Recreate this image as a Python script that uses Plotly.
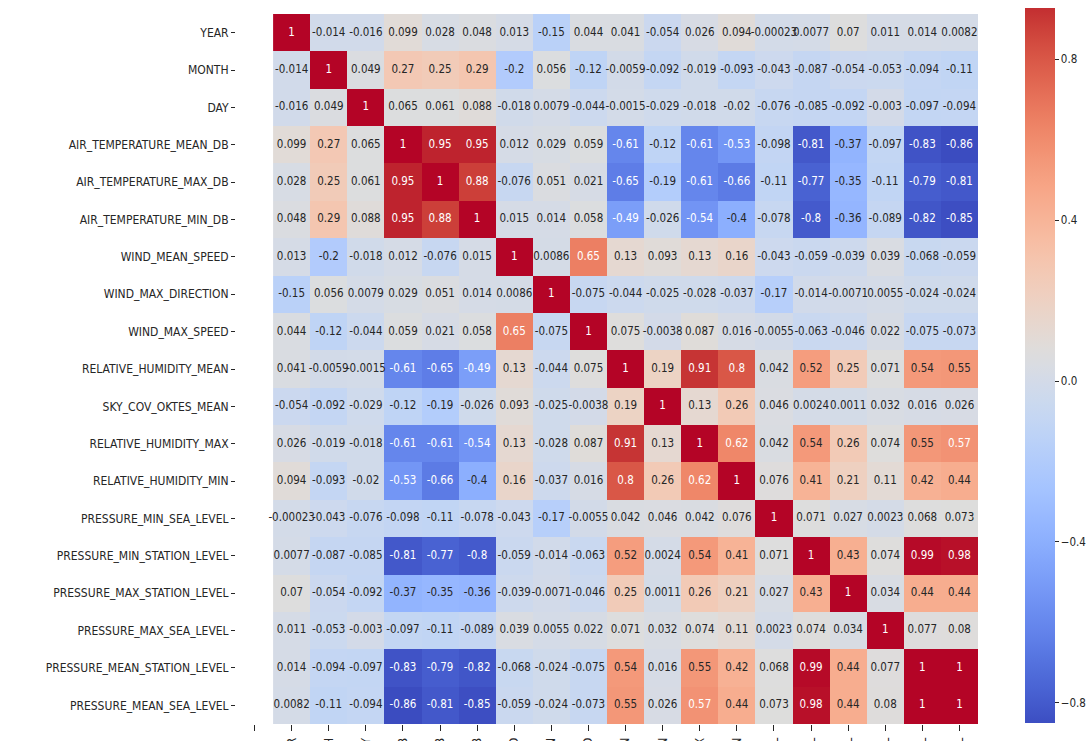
import numpy as np
import plotly.graph_objects as go

# Variables of the daily weather dataset (row/column order of the matrix)
variables = [
    "YEAR", "MONTH", "DAY",
    "AIR_TEMPERATURE_MEAN_DB", "AIR_TEMPERATURE_MAX_DB", "AIR_TEMPERATURE_MIN_DB",
    "WIND_MEAN_SPEED", "WIND_MAX_DIRECTION", "WIND_MAX_SPEED",
    "RELATIVE_HUMIDITY_MEAN", "SKY_COV_OKTES_MEAN", "RELATIVE_HUMIDITY_MAX",
    "RELATIVE_HUMIDITY_MIN", "PRESSURE_MIN_SEA_LEVEL", "PRESSURE_MIN_STATION_LEVEL",
    "PRESSURE_MAX_STATION_LEVEL", "PRESSURE_MAX_SEA_LEVEL",
    "PRESSURE_MEAN_STATION_LEVEL", "PRESSURE_MEAN_SEA_LEVEL",
]

# Pearson correlations, one list per row
corr_year = [1, -0.014, -0.016, 0.099, 0.028, 0.048, 0.013, -0.15, 0.044, 0.041, -0.054, 0.026, 0.094, -0.00023, 0.0077, 0.07, 0.011, 0.014, 0.0082]
corr_month = [-0.014, 1, 0.049, 0.27, 0.25, 0.29, -0.2, 0.056, -0.12, -0.0059, -0.092, -0.019, -0.093, -0.043, -0.087, -0.054, -0.053, -0.094, -0.11]
corr_day = [-0.016, 0.049, 1, 0.065, 0.061, 0.088, -0.018, 0.0079, -0.044, -0.0015, -0.029, -0.018, -0.02, -0.076, -0.085, -0.092, -0.003, -0.097, -0.094]
corr_air_mean = [0.099, 0.27, 0.065, 1, 0.95, 0.95, 0.012, 0.029, 0.059, -0.61, -0.12, -0.61, -0.53, -0.098, -0.81, -0.37, -0.097, -0.83, -0.86]
corr_air_max = [0.028, 0.25, 0.061, 0.95, 1, 0.88, -0.076, 0.051, 0.021, -0.65, -0.19, -0.61, -0.66, -0.11, -0.77, -0.35, -0.11, -0.79, -0.81]
corr_air_min = [0.048, 0.29, 0.088, 0.95, 0.88, 1, 0.015, 0.014, 0.058, -0.49, -0.026, -0.54, -0.4, -0.078, -0.8, -0.36, -0.089, -0.82, -0.85]
corr_wind_mean = [0.013, -0.2, -0.018, 0.012, -0.076, 0.015, 1, 0.0086, 0.65, 0.13, 0.093, 0.13, 0.16, -0.043, -0.059, -0.039, 0.039, -0.068, -0.059]
corr_wind_dir = [-0.15, 0.056, 0.0079, 0.029, 0.051, 0.014, 0.0086, 1, -0.075, -0.044, -0.025, -0.028, -0.037, -0.17, -0.014, -0.0071, 0.0055, -0.024, -0.024]
corr_wind_max = [0.044, -0.12, -0.044, 0.059, 0.021, 0.058, 0.65, -0.075, 1, 0.075, -0.0038, 0.087, 0.016, -0.0055, -0.063, -0.046, 0.022, -0.075, -0.073]
corr_rh_mean = [0.041, -0.0059, -0.0015, -0.61, -0.65, -0.49, 0.13, -0.044, 0.075, 1, 0.19, 0.91, 0.8, 0.042, 0.52, 0.25, 0.071, 0.54, 0.55]
corr_sky = [-0.054, -0.092, -0.029, -0.12, -0.19, -0.026, 0.093, -0.025, -0.0038, 0.19, 1, 0.13, 0.26, 0.046, 0.0024, 0.0011, 0.032, 0.016, 0.026]
corr_rh_max = [0.026, -0.019, -0.018, -0.61, -0.61, -0.54, 0.13, -0.028, 0.087, 0.91, 0.13, 1, 0.62, 0.042, 0.54, 0.26, 0.074, 0.55, 0.57]
corr_rh_min = [0.094, -0.093, -0.02, -0.53, -0.66, -0.4, 0.16, -0.037, 0.016, 0.8, 0.26, 0.62, 1, 0.076, 0.41, 0.21, 0.11, 0.42, 0.44]
corr_p_min_sea = [-0.00023, -0.043, -0.076, -0.098, -0.11, -0.078, -0.043, -0.17, -0.0055, 0.042, 0.046, 0.042, 0.076, 1, 0.071, 0.027, 0.0023, 0.068, 0.073]
corr_p_min_stn = [0.0077, -0.087, -0.085, -0.81, -0.77, -0.8, -0.059, -0.014, -0.063, 0.52, 0.0024, 0.54, 0.41, 0.071, 1, 0.43, 0.074, 0.99, 0.98]
corr_p_max_stn = [0.07, -0.054, -0.092, -0.37, -0.35, -0.36, -0.039, -0.0071, -0.046, 0.25, 0.0011, 0.26, 0.21, 0.027, 0.43, 1, 0.034, 0.44, 0.44]
corr_p_max_sea = [0.011, -0.053, -0.003, -0.097, -0.11, -0.089, 0.039, 0.0055, 0.022, 0.071, 0.032, 0.074, 0.11, 0.0023, 0.074, 0.034, 1, 0.077, 0.08]
corr_p_mean_stn = [0.014, -0.094, -0.097, -0.83, -0.79, -0.82, -0.068, -0.024, -0.075, 0.54, 0.016, 0.55, 0.42, 0.068, 0.99, 0.44, 0.077, 1, 1]
corr_p_mean_sea = [0.0082, -0.11, -0.094, -0.86, -0.81, -0.85, -0.059, -0.024, -0.073, 0.55, 0.026, 0.57, 0.44, 0.073, 0.98, 0.44, 0.08, 1, 1]

corr = np.array([
    corr_year, corr_month, corr_day, corr_air_mean, corr_air_max, corr_air_min,
    corr_wind_mean, corr_wind_dir, corr_wind_max, corr_rh_mean, corr_sky,
    corr_rh_max, corr_rh_min, corr_p_min_sea, corr_p_min_stn, corr_p_max_stn,
    corr_p_max_sea, corr_p_mean_stn, corr_p_mean_sea,
], dtype=float)

colorbar_ticks = [-0.8, -0.4, 0.0, 0.4, 0.8]

# matplotlib "coolwarm" control points
COOLWARM = [
    (59, 76, 192), (68, 90, 204), (77, 104, 215), (87, 117, 225), (98, 130, 234),
    (108, 142, 241), (119, 154, 247), (130, 165, 251), (141, 176, 254), (152, 185, 255),
    (163, 194, 255), (174, 201, 253), (184, 208, 249), (194, 213, 244), (204, 217, 238),
    (213, 219, 230), (221, 221, 221), (229, 216, 209), (236, 211, 197), (241, 204, 185),
    (245, 196, 173), (247, 187, 160), (247, 177, 148), (247, 166, 135), (244, 154, 123),
    (241, 141, 111), (236, 127, 99), (229, 112, 88), (222, 96, 77), (213, 80, 66),
    (203, 62, 56), (192, 40, 47), (180, 4, 38),
]
cw_pos = np.linspace(0, 1, len(COOLWARM))
cw_rgb = np.array(COOLWARM, dtype=float)


def coolwarm(t):
    t = float(np.clip(t, 0, 1))
    return tuple(np.interp(t, cw_pos, cw_rgb[:, k]) for k in range(3))


def rgb_str(c):
    return "rgb(%d,%d,%d)" % tuple(int(round(v)) for v in c)


full_scale = [[float(p), rgb_str(c)] for p, c in zip(cw_pos, COOLWARM)]

vmin, vmax = float(corr.min()), float(corr.max())

# Colour bar shows the portion of the map between these bounds
cb_lo, cb_hi = -0.851, 0.927
cb_vals = np.linspace(cb_lo, cb_hi, 41)
bar_scale = [[float(i / (len(cb_vals) - 1)), rgb_str(coolwarm((v - vmin) / (vmax - vmin)))]
             for i, v in enumerate(cb_vals)]


def luminance(c):
    rgb = np.array(c) / 255.0
    lin = np.where(rgb <= 0.03928, rgb / 12.92, ((rgb + 0.055) / 1.055) ** 2.4)
    return float(lin.dot([0.2126, 0.7152, 0.0722]))


n = len(variables)
dark_x, dark_y, dark_t = [], [], []
light_x, light_y, light_t = [], [], []
for i in range(n):
    for j in range(n):
        v = corr[i, j]
        label = format(v, ".2g")
        col = coolwarm((v - vmin) / (vmax - vmin))
        if luminance(col) > 0.408:
            dark_x.append(j); dark_y.append(i); dark_t.append(label)
        else:
            light_x.append(j); light_y.append(i); light_t.append(label)

FONT = "DejaVu Sans Condensed, Liberation Sans Narrow, DejaVu Sans, sans-serif"
INK = "#262626"

fig = go.Figure()
fig.add_trace(go.Heatmap(
    z=corr, x=list(range(n)), y=list(range(n)),
    coloraxis="coloraxis", hoverinfo="skip", xgap=0, ygap=0,
))
fig.add_trace(go.Scatter(
    x=dark_x, y=dark_y, text=dark_t, mode="text",
    textfont=dict(family=FONT, size=11.5, color=INK),
    hoverinfo="skip", showlegend=False,
))
fig.add_trace(go.Scatter(
    x=light_x, y=light_y, text=light_t, mode="text",
    textfont=dict(family=FONT, size=11.5, color="white"),
    hoverinfo="skip", showlegend=False,
))
# invisible carrier for the colour bar
fig.add_trace(go.Scatter(
    x=[0, 0], y=[0, 0], mode="markers",
    marker=dict(color=[cb_lo, cb_hi], coloraxis="coloraxis2", opacity=0, size=1),
    hoverinfo="skip", showlegend=False,
))

W, H = 1089, 741
x_left, x_right = 236, 978
y_top, y_bottom = 14, 724

fig.update_layout(
    width=W, height=H,
    margin=dict(l=0, r=0, t=0, b=0),
    paper_bgcolor="white", plot_bgcolor="white",
    font=dict(family=FONT, size=11.5, color=INK),
    coloraxis=dict(colorscale=full_scale, cmin=vmin, cmax=vmax, showscale=False),
    coloraxis2=dict(
        colorscale=bar_scale, cmin=cb_lo, cmax=cb_hi, showscale=True,
        colorbar=dict(
            x=1025 / W, xanchor="left", xpad=0, ypad=0,
            y=1 - 8.3 / H, yanchor="top", len=(723.3 - 8.3) / H, lenmode="fraction",
            thickness=30, outlinewidth=0,
            tickvals=colorbar_ticks, tickformat=".1f",
            ticks="outside", ticklen=4, tickcolor=INK, tickwidth=1,
            tickfont=dict(family=FONT, size=11.5, color=INK),
        ),
    ),
    xaxis=dict(
        domain=[x_left / W, x_right / W], range=[-1.5, n - 0.5],
        tickvals=list(range(-1, n)), ticktext=[""] + variables,
        tickangle=-90, ticks="outside", ticklen=6, tickcolor=INK, tickwidth=1,
        ticklabelstandoff=2,
        showgrid=False, zeroline=False, showline=False, automargin=False,
        tickfont=dict(family=FONT, size=12, color=INK),
    ),
    yaxis=dict(
        domain=[1 - y_bottom / H, 1 - y_top / H], range=[n - 0.5, -0.5],
        tickvals=list(range(n)), ticktext=variables,
        ticks="outside", ticklen=4, tickcolor=INK, tickwidth=1,
        showgrid=False, zeroline=False, showline=False, automargin=False,
        tickfont=dict(family=FONT, size=12, color=INK),
    ),
)

fig.write_html("out.html")
